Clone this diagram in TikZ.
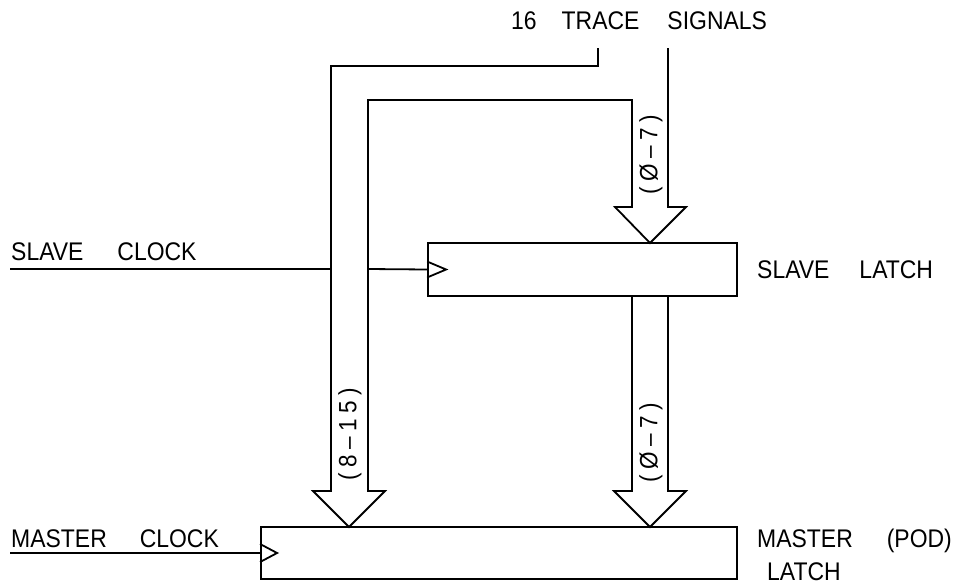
\documentclass[tikz,border=0pt]{standalone}
\usepackage{fontspec}
\usetikzlibrary{calc}
\setmainfont[FakeStretch=0.9]{Liberation Sans}
\newfontfamily\busfont[FakeStretch=0.9,LetterSpace=22]{Liberation Sans}
\begin{document}
\begin{tikzpicture}[x=1pt,y=-1pt,
  wire/.style={line width=1.8pt, line join=miter},
  latch/.style={draw, line width=1.8pt, inner sep=0pt},
  lbl/.style={inner sep=0pt, anchor=base west, font=\fontsize{25.5}{30}\selectfont},
  buslbl/.style={inner sep=0pt, rotate=90, font=\busfont\fontsize{25}{30}\selectfont}]
\useasboundingbox (0,0) rectangle (962,584);

% latches
\node[latch, minimum width=309pt, minimum height=53pt] (sl) at (582.5,269.5) {};
\node[latch, minimum width=476pt, minimum height=52pt] (ml) at (499,553) {};

% clock inputs
\draw[wire] ($(sl.west)+(0,-8)$) -- ++(19,8) -- ++(-19,8);
\draw[wire] ($(ml.west)+(0,-9)$) -- ++(17,9) -- ++(-17,9);

% coordinates of the bus
\coordinate (inA) at (598,48);
\coordinate (inB) at (668,48);
\coordinate (tipS) at (650,243);
\coordinate (tipM1) at (349,527);
\coordinate (tipM2) at (650,527);
\coordinate (slbotL) at (632,296);
\coordinate (slbotR) at (668,296);
\coordinate (clkS) at (10,269);
\coordinate (clkM) at (10,553);

% trace signal bus
\draw[wire] (inA) -- (598,66) -- (331,66) -- (331,491) -- (313,491) -- (tipM1)
  -- (385,491) -- (368,491) -- (368,100) -- (632,100) -- (632,207) -- (615,207)
  -- (tipS) -- (686,207) -- (668,207) -- (inB);

% slave to master bus
\draw[wire] (slbotL) -- (632,491) -- (614,491) -- (tipM2) -- (686,491) -- (668,491) -- (slbotR);

% clock lines
\draw[wire] (clkS) -- (331,269);
\draw[wire] (368,269) -- (sl.west);
\draw[wire] (clkM) -- (ml.west);

% labels
\node[lbl] (t16) at (511,29) {16\hspace{25pt}TRACE\hspace{28pt}SIGNALS};
\node[lbl] (tsc) at (11,260) {SLAVE\hspace{34pt}CLOCK};
\node[lbl] (tmc) at (11,547) {MASTER\hspace{33pt}CLOCK};
\node[lbl] (tsl) at (757,278) {SLAVE\hspace{30pt}LATCH};
\node[lbl] (tml) at (757,547) {MASTER\hspace{34pt}(POD)};
\node[lbl] (tml2) at (767,580) {LATCH};

\node[buslbl] (b1) at (651,155) {(Ø–7)};
\node[buslbl] (b2) at (651,443) {(Ø–7)};
\node[buslbl] (b3) at (350,434) {(8–15)};
\end{tikzpicture}
\end{document}
